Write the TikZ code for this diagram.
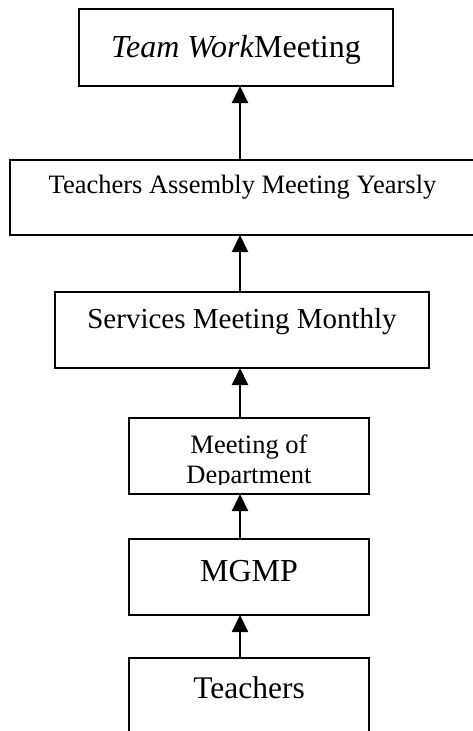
\documentclass[tikz,border=0pt]{standalone}
\usepackage{fontspec}
\setmainfont{Liberation Serif}
\usetikzlibrary{arrows.meta}

\tikzset{
  box/.style={draw, line width=2pt, anchor=north west, inner sep=0pt, outer sep=0pt, align=center},
  up/.style={line width=2pt, -{Triangle[length=17pt,width=16pt]}},
}
\newcommand{\fsz}[1]{\fontsize{#1}{1.13\dimexpr#1pt\relax}\selectfont}

\begin{document}
\begin{tikzpicture}[x=1pt, y=-1pt]
  \useasboundingbox (0,0) rectangle (473,731);
  \coordinate (spine) at (240,0);
  % Team work meeting
  \node[box, minimum width=314pt, minimum height=77pt, text height=24pt, text depth=5pt,
    font=\fsz{32}] (team) at (79,9) {\textit{Team Work}Meeting};
  % Assembly
  \node[box, minimum width=465pt, minimum height=75pt, text height=20pt, text depth=29pt,
    font=\fsz{26.5}] (assembly) at (10,160) {Teachers Assembly Meeting Yearsly};
  % Services
  \node[box, minimum width=374pt, minimum height=76pt, text height=22pt, text depth=26pt,
    font=\fsz{29}] (services) at (55,292) {Services Meeting Monthly};
  % Department (text cut at the bottom)
  \node[box, minimum width=240pt, minimum height=76pt] (dept) at (129,418) {};
  \begin{scope}
    \clip (dept.north west) rectangle ([yshift=10pt]dept.south east);
    \node[font=\fsz{26.5}, align=center, anchor=north, inner sep=0pt] (depttext)
      at (249,435) {Meeting of\\Department};
  \end{scope}
  % MGMP
  \node[box, minimum width=240pt, minimum height=76pt, text height=23pt, text depth=15pt,
    font=\fsz{32}] (mgmp) at (129,539) {MGMP};
  % Teachers
  \node[box, minimum width=240pt, minimum height=90pt, text height=23pt, text depth=33pt,
    font=\fsz{31.5}] (teachers) at (129,658) {Teachers};
  % Arrows
  \draw[up] (assembly.north -| spine) -- (team.south -| spine);
  \draw[up] (services.north -| spine) -- (assembly.south -| spine);
  \draw[up] (dept.north -| spine) -- (services.south -| spine);
  \draw[up] (mgmp.north -| spine) -- (dept.south -| spine);
  \draw[up] (teachers.north -| spine) -- (mgmp.south -| spine);
\end{tikzpicture}
\end{document}
